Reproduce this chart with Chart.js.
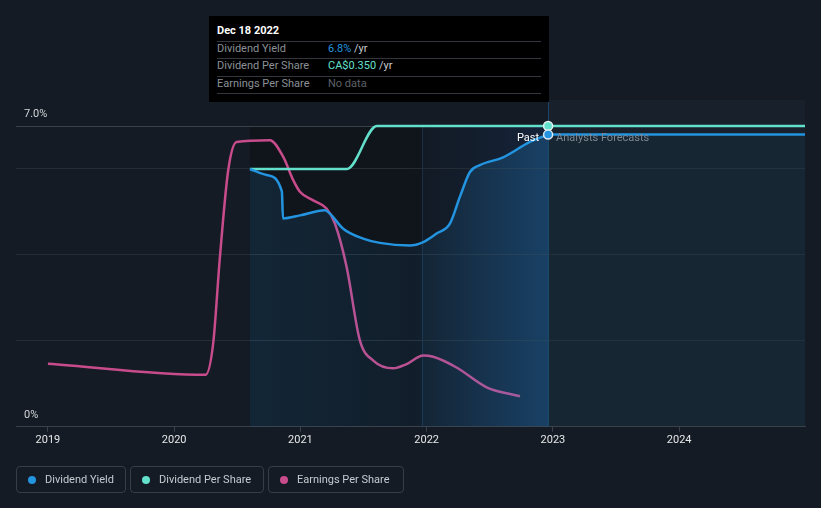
<!DOCTYPE html>
<html>
<head>
<meta charset="utf-8">
<script src="https://cdn.jsdelivr.net/npm/chart.js@4/dist/chart.umd.min.js"></script>
<style>
  html, body { margin: 0; padding: 0; background: #151b24; }
  #wrap { position: relative; width: 821px; height: 508px; overflow: hidden; font-family: Roboto, "Open Sans", sans-serif; }
  canvas { position: absolute; left: 0; top: 0; }
  .tip { position: absolute; left: 209px; top: 16px; width: 340px; height: 86px; background: #000; }
  .tip .t { position: absolute; left: 8px; top: 8px; font-size: 11px; font-weight: bold; color: #fff; line-height: 14px; }
  .tip .sep { position: absolute; left: 8px; width: 324px; height: 1px; background: #33373d; }
  .tip .l { position: absolute; left: 8px; font-size: 11px; color: #8b9097; line-height: 14px; }
  .tip .v { position: absolute; left: 119px; font-size: 11px; color: #c9ccd0; line-height: 14px; }
  .leg { position: absolute; top: 466px; height: 25px; border: 1px solid #383e47; border-radius: 4px; box-sizing: content-box; }
  .leg .dot { position: absolute; left: 11px; top: 9px; width: 8px; height: 8px; border-radius: 50%; }
  .leg .txt { position: absolute; left: 28px; top: 5px; font-size: 11px; color: #c6cbd2; line-height: 15px; white-space: nowrap; }
</style>
</head>
<body>
<div id="wrap">
  <canvas id="c" width="821" height="508"></canvas>
  <div class="tip">
    <div class="t">Dec 18 2022</div>
    <div class="sep" style="top:25px"></div>
    <div class="l" style="top:26px">Dividend Yield</div>
    <div class="v" style="top:26px"><span style="color:#2394df">6.8%</span> /yr</div>
    <div class="sep" style="top:42px"></div>
    <div class="l" style="top:43px">Dividend Per Share</div>
    <div class="v" style="top:43px"><span style="color:#63e0cc">CA$0.350</span> /yr</div>
    <div class="sep" style="top:60px"></div>
    <div class="l" style="top:61px">Earnings Per Share</div>
    <div class="v" style="top:61px;color:#5d6168">No data</div>
    <div class="sep" style="top:77px"></div>
  </div>
  <div class="leg" style="left:16px;width:108px"><div class="dot" style="background:#2394df"></div><div class="txt">Dividend Yield</div></div>
  <div class="leg" style="left:130px;width:132px"><div class="dot" style="background:#63e0cc"></div><div class="txt">Dividend Per Share</div></div>
  <div class="leg" style="left:268px;width:134px"><div class="dot" style="background:#c84b8c"></div><div class="txt">Earnings Per Share</div></div>
</div>
<script>
// ---- data (x values in decimal years) ----
const yearTicks = [2019, 2020, 2021, 2022, 2023, 2024];
const xMin = 2018.747;
const xMax = 2024.997;
const today = 2022.962; // Dec 18 2022

// Dividend Yield (%) - past
const dyPastX = [2020.600, 2020.732, 2020.853, 2020.862, 2020.996, 2021.194, 2021.234, 2021.339, 2021.497, 2021.630, 2021.867, 2021.973, 2022.079, 2022.184, 2022.263, 2022.343, 2022.422, 2022.606, 2022.818, 2022.962];
const dyPastY = [6.00, 5.86, 5.48, 4.85, 4.92, 5.04, 4.96, 4.61, 4.38, 4.28, 4.22, 4.30, 4.50, 4.73, 5.35, 5.93, 6.09, 6.27, 6.63, 6.80];
// Dividend Yield (%) - analysts forecast
const dyFcX = [2022.962, 2024.997];
const dyFcY = [6.80, 6.80];

// Dividend Per Share (CA$)
const dpsX = [2020.600, 2021.368, 2021.606, 2022.962, 2024.997];
const dpsY = [0.30, 0.30, 0.35, 0.35, 0.35];

// Earnings Per Share (CA$, relative scale)
const epsX = [2019.000, 2020.249, 2020.309, 2020.362, 2020.428, 2020.494, 2020.758, 2020.864, 2020.943, 2020.996, 2021.101, 2021.207, 2021.273, 2021.366, 2021.471, 2021.577, 2021.735, 2021.841, 2021.973, 2022.052, 2022.237, 2022.475, 2022.739];
const epsY = [0.147, 0.121, 0.194, 0.394, 0.597, 0.663, 0.667, 0.628, 0.574, 0.547, 0.527, 0.508, 0.473, 0.372, 0.201, 0.154, 0.136, 0.146, 0.166, 0.163, 0.138, 0.092, 0.071];

const yTicks = [0, 2, 4, 6, 7];

const C_BLUE = '#2394df', C_TEAL = '#63e0cc', C_PINK = '#c84b8c';

const pts = (xs, ys) => xs.map((x, i) => ({ x: x, y: ys[i] }));

const bgPlugin = {
  id: 'bg',
  beforeDraw(chart) {
    const { ctx, chartArea: ca, scales } = chart;
    const xs = scales.x;
    ctx.save();
    ctx.fillStyle = '#151b24';
    ctx.fillRect(0, 0, chart.width, chart.height);
    const xa = xs.getPixelForValue(dyPastX[0]);
    const xb = xs.getPixelForValue(today - 1);
    const xc = xs.getPixelForValue(today);
    ctx.fillStyle = '#10141b';
    ctx.fillRect(xa, ca.top, xb - xa, ca.bottom - ca.top);
    const g = ctx.createLinearGradient(xb, 0, xc, 0);
    g.addColorStop(0, '#121a24');
    g.addColorStop(1, '#15233a');
    ctx.fillStyle = g;
    ctx.fillRect(xb, ca.top, xc - xb, ca.bottom - ca.top);
    ctx.fillStyle = '#17202b';
    ctx.fillRect(xc, 100, ca.right - xc, ca.bottom - 100);
    ctx.strokeStyle = '#1a2f46';
    ctx.lineWidth = 1;
    ctx.beginPath();
    ctx.moveTo(Math.round(xb) + 0.5, ca.top);
    ctx.lineTo(Math.round(xb) + 0.5, ca.bottom);
    ctx.stroke();
    ctx.restore();
  },
  beforeDatasetsDraw(chart) {
    const { ctx, chartArea: ca, scales } = chart;
    const xc = scales.x.getPixelForValue(today);
    ctx.save();
    ctx.strokeStyle = '#1d4566';
    ctx.lineWidth = 1;
    ctx.beginPath();
    ctx.moveTo(Math.round(xc) + 0.5, 101);
    ctx.lineTo(Math.round(xc) + 0.5, ca.bottom);
    ctx.stroke();
    ctx.restore();
  },
  afterDatasetsDraw(chart) {
    const { ctx, scales } = chart;
    const xc = scales.x.getPixelForValue(today);
    const yy = scales.y.getPixelForValue(dyFcY[0]) + 4;
    ctx.save();
    ctx.font = '11px Roboto, sans-serif';
    ctx.textBaseline = 'middle';
    ctx.textAlign = 'right';
    ctx.fillStyle = '#ffffff';
    ctx.fillText('Past', xc - 9, yy);
    ctx.textAlign = 'left';
    ctx.fillStyle = '#7f8791';
    ctx.fillText('Analysts Forecasts', xc + 8, yy);
    ctx.restore();
  }
};

new Chart(document.getElementById('c'), {
  type: 'line',
  data: {
    datasets: [
      {
        label: 'Dividend Yield',
        data: pts(dyPastX, dyPastY),
        yAxisID: 'y',
        borderColor: C_BLUE,
        borderWidth: 2.5,
        cubicInterpolationMode: 'monotone',
        fill: 'origin',
        backgroundColor: (c) => {
          const chart = c.chart;
          if (!chart.chartArea) return 'rgba(35,148,223,0.12)';
          const xs = chart.scales.x;
          const x0 = xs.getPixelForValue(dyPastX[0]);
          const x1 = xs.getPixelForValue(today);
          const g = chart.ctx.createLinearGradient(x0, 0, x1, 0);
          g.addColorStop(0, 'rgba(35,148,223,0.14)');
          g.addColorStop(0.55, 'rgba(35,148,223,0.08)');
          g.addColorStop(1, 'rgba(35,148,223,0.26)');
          return g;
        },
        pointRadius: (c) => c.dataIndex === dyPastX.length - 1 ? 4.5 : 0,
        pointBackgroundColor: C_BLUE,
        pointBorderColor: '#dfe8f0',
        pointBorderWidth: 1.5,
        clip: false
      },
      {
        label: 'Dividend Yield forecast',
        data: pts(dyFcX, dyFcY),
        yAxisID: 'y',
        borderColor: C_BLUE,
        borderWidth: 2.5,
        fill: 'origin',
        backgroundColor: 'rgba(35,148,223,0.05)',
        pointRadius: 0,
        clip: false
      },
      {
        label: 'Dividend Per Share',
        data: pts(dpsX, dpsY),
        yAxisID: 'yDps',
        borderColor: C_TEAL,
        borderWidth: 2.5,
        cubicInterpolationMode: 'monotone',
        fill: false,
        pointRadius: (c) => c.dataIndex === 3 ? 4.5 : 0,
        pointBackgroundColor: C_TEAL,
        pointBorderColor: '#e6f2f0',
        pointBorderWidth: 1.5,
        clip: false
      },
      {
        label: 'Earnings Per Share',
        data: pts(epsX, epsY),
        yAxisID: 'yEps',
        borderColor: C_PINK,
        borderWidth: 2.5,
        cubicInterpolationMode: 'monotone',
        fill: false,
        pointRadius: 0,
        clip: false
      }
    ]
  },
  options: {
    responsive: false,
    devicePixelRatio: 1,
    animation: false,
    events: [],
    layout: { padding: { left: 0, right: 16, top: 126, bottom: 59 } },
    plugins: { legend: { display: false }, tooltip: { enabled: false } },
    scales: {
      x: {
        type: 'linear',
        min: xMin,
        max: xMax,
        afterBuildTicks: (s) => { s.ticks = yearTicks.map(v => ({ value: v })); },
        ticks: {
          callback: (v) => String(v),
          color: '#e6e8ea',
          font: { family: 'Roboto', size: 11 },
          maxRotation: 0,
          autoSkip: false,
          padding: 2
        },
        grid: { drawOnChartArea: false, drawTicks: true, tickLength: 5, color: '#3a3f48' },
        border: { display: true, color: '#3a3f48' }
      },
      y: {
        min: 0,
        max: 7,
        position: 'left',
        afterBuildTicks: (s) => { s.ticks = yTicks.map(v => ({ value: v })); },
        ticks: {
          mirror: true,
          padding: 8,
          labelOffset: -12,
          color: '#d4d7da',
          font: { family: 'Roboto', size: 11 },
          callback: (v) => v === 7 ? '7.0%' : (v === 0 ? '0%' : '')
        },
        grid: {
          drawTicks: false,
          color: (c) => c.tick && c.tick.value === 7 ? '#3b4049' : '#252c36'
        },
        border: { display: false }
      },
      yDps: { display: false, min: 0, max: 0.35 },
      yEps: { display: false, min: 0, max: 0.7 }
    }
  },
  plugins: [bgPlugin]
});
</script>
</body>
</html>
